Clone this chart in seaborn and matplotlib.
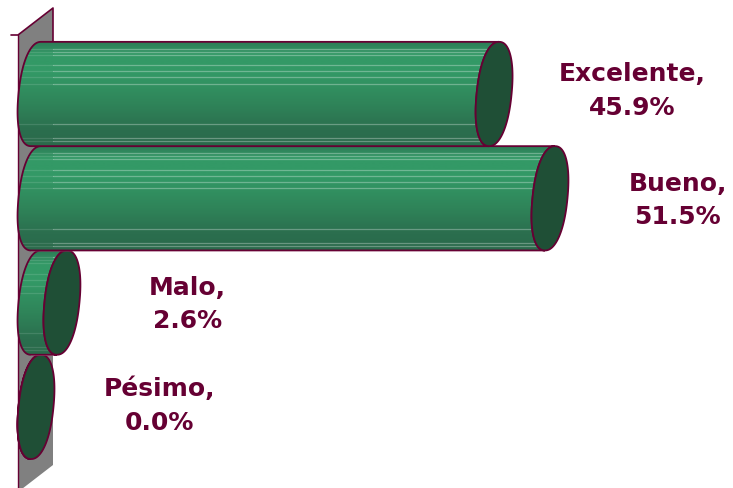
import numpy as np
import pandas as pd
import seaborn as sns
import matplotlib.pyplot as plt
from matplotlib.colors import LinearSegmentedColormap
from matplotlib.patches import PathPatch, Polygon
from matplotlib.path import Path
from matplotlib.transforms import Affine2D

# Values
categories = ['Excelente', 'Bueno', 'Malo', 'Pésimo']
percentages = [45.9, 51.5, 2.6, 0.0]

# Label centre, as offset from the end of the bar (percent units, category units)
label_offsets = [13.8, 12.8, 12.6, 12.4]
label_rise = [-0.04, 0.01, 0.01, -0.02]

FIG_W, FIG_H = 733, 489
X0_PX, PX_PER_PCT = 36, 9.98
Y0_PX, PX_PER_CAT = 95, 104.3
EDGE = '#660033'
CAP = '#1f4f36'
WALL = '#808080'

sns.set_theme(style='white')
plt.rcParams['font.family'] = ['DejaVu Sans']

df = pd.DataFrame({'categoria': categories, 'porcentaje': percentages})

fig = plt.figure(figsize=(FIG_W / 100, FIG_H / 100), dpi=100)
ax = fig.add_axes([0, 0, 1, 1])
sns.barplot(data=df, x='porcentaje', y='categoria', orient='y', color='#2f8a5c',
            width=1.0, saturation=1, ax=ax, zorder=2)
ax.axis('off')


def px_x(px):
    return (px - X0_PX) / PX_PER_PCT


def px_y(px):
    return (px - Y0_PX) / PX_PER_CAT


# Grey wall behind the cylinders
wall = [(18, 36), (53, 9), (53, 466), (18, 493)]
ax.add_patch(Polygon([(px_x(a), px_y(b)) for a, b in wall], closed=True,
                     fc=WALL, ec='none', zorder=1))
ax.plot([px_x(11), px_x(18), px_x(53), px_x(53)],
        [px_y(36), px_y(36), px_y(9), px_y(42)], color=EDGE, lw=1.2, zorder=1.5)
ax.plot([px_x(18), px_x(18)], [px_y(36), px_y(489)], color=EDGE, lw=1.0, zorder=1.5)

# Elliptical ends, leaning slightly to the right at the top
ELL_A = 17.5 / PX_PER_PCT
ELL_S = 5.0 / PX_PER_PCT
ELL_B = 0.5
BLUNT = 0.9


def ellipse(cx, cy, tt):
    c = np.sign(np.cos(tt)) * np.abs(np.cos(tt)) ** BLUNT
    s = np.sign(np.sin(tt)) * np.abs(np.sin(tt)) ** BLUNT
    return cx + ELL_A * c - ELL_S * s, cy + ELL_B * s


t = np.linspace(0, 2 * np.pi, 120)
shade = LinearSegmentedColormap.from_list('cyl', [
    (0.0, '#2d7a56'), (0.12, '#339966'), (0.30, '#339966'),
    (0.60, '#2f8459'), (0.85, '#2b6e4e'), (1.0, '#2a6a4b')])
gradient = np.linspace(0, 1, 106).reshape(-1, 1)
highlights = [0.066, 0.094, 0.123, 0.226, 0.283, 0.34, 0.406, 0.792, 0.925, 0.953]

# Draw from the bottom bar up so that upper cylinders overlap lower ones
for i in range(len(categories) - 1, -1, -1):
    bar = ax.patches[i]
    value = bar.get_width()
    cy = bar.get_y() + bar.get_height() / 2
    z = 10 + (len(categories) - i) * 2

    # lean the seaborn bar along with the cylinder
    lean = Affine2D.from_values(1, 0, -ELL_S / ELL_B, 1, 0, cy)
    bar.set_transform(Affine2D().translate(0, -cy) + lean + ax.transData)
    bar.set_zorder(z)

    lx, ly = ellipse(0, cy, np.linspace(np.pi / 2, 3 * np.pi / 2, 60))
    rx, ry = ellipse(value, cy, np.linspace(3 * np.pi / 2, np.pi / 2, 60))
    verts = np.column_stack([np.r_[lx, rx], np.r_[ly, ry]])
    body = PathPatch(Path(np.vstack([verts, verts[0]]), closed=True), fc='none',
                     ec=EDGE, lw=1.3, zorder=z + 0.5)
    ax.add_patch(body)

    im = ax.imshow(gradient, cmap=shade, aspect='auto', vmin=0, vmax=1,
                   extent=(px_x(0), px_x(600), cy + 0.5, cy - 0.5), zorder=z + 0.1)
    im.set_clip_path(body)
    for h in highlights:
        yy = cy - 0.5 + h
        dim = ax.plot([px_x(0), px_x(53)], [yy, yy], color='white', lw=0.9, alpha=0.12, zorder=z + 0.2)[0]
        lit = ax.plot([px_x(53), px_x(600)], [yy, yy], color='white', lw=0.9, alpha=0.3, zorder=z + 0.2)[0]
        dim.set_clip_path(body)
        lit.set_clip_path(body)

    ex, ey = ellipse(value, cy, t)
    ax.fill(ex, ey, fc=CAP, ec=EDGE, lw=1.3, zorder=z + 0.6)

# imshow and barplot move the limits, so set them last
ax.set_xlim(-X0_PX / PX_PER_PCT, (FIG_W - X0_PX) / PX_PER_PCT)
ax.set_ylim((FIG_H - Y0_PX) / PX_PER_CAT, -Y0_PX / PX_PER_CAT)

for i, (cat, val, off, rise) in enumerate(zip(categories, percentages, label_offsets, label_rise)):
    ax.text(val + off, i + rise, f'{cat},\n{val:.1f}%', ha='center', va='center',
            color=EDGE, fontsize=18, fontweight='bold', linespacing=1.5, zorder=30)

fig.savefig('out.png', dpi=100)
